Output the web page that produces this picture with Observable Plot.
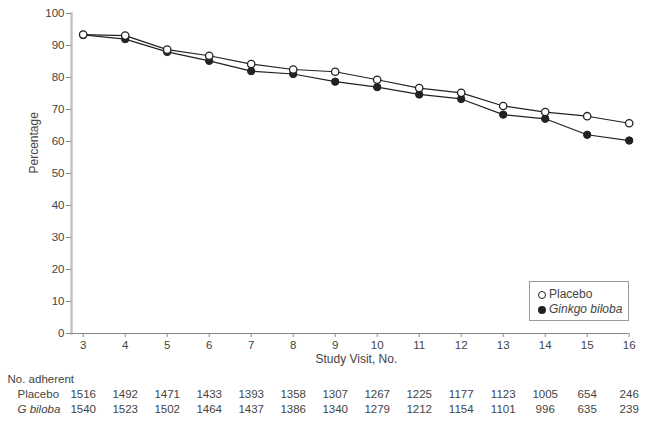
<!DOCTYPE html>
<html>
<head>
<meta charset="utf-8">
<script src="https://cdn.jsdelivr.net/npm/d3@7"></script>
<script src="https://cdn.jsdelivr.net/npm/@observablehq/plot@0.6"></script>
<style>
  body { margin: 0; background: #fff; }
  #wrap { position: relative; width: 647px; height: 424px; font-family: "Liberation Sans", Arial, sans-serif; }
  #legend { position: absolute; left: 529px; top: 281px; width: 100px; height: 40px; box-sizing: border-box;
    border: 1px solid #9a9a9a; background: #fff; font-size: 12px; color: #444; }
  .item { position: absolute; left: 8px; height: 14px; line-height: 14px; white-space: nowrap; }
  .sw { display: inline-block; box-sizing: border-box; width: 8px; height: 8px; border-radius: 50%; vertical-align: -1px; margin-right: 3px; }
</style>
</head>
<body>
<div id="wrap"></div>
<script>
const visits = [3, 4, 5, 6, 7, 8, 9, 10, 11, 12, 13, 14, 15, 16];
const placebo = [93.4, 93.1, 88.7, 86.8, 84.2, 82.5, 81.8, 79.3, 76.7, 75.2, 71.1, 69.2, 67.9, 65.7];
const ginkgo = [93.3, 92.0, 88.0, 85.2, 82.0, 81.1, 78.7, 77.0, 74.7, 73.3, 68.4, 67.1, 62.1, 60.3];
const placeboN = [1516, 1492, 1471, 1433, 1393, 1358, 1307, 1267, 1225, 1177, 1123, 1005, 654, 246];
const ginkgoN = [1540, 1523, 1502, 1464, 1437, 1386, 1340, 1279, 1212, 1154, 1101, 996, 635, 239];
const yTicks = [0, 10, 20, 30, 40, 50, 60, 70, 80, 90, 100];

const pData = visits.map((v, i) => ({visit: v, value: placebo[i]}));
const gData = visits.map((v, i) => ({visit: v, value: ginkgo[i]}));

const textColor = "#444";
const ink = "#222";

const chart = Plot.plot({
  width: 647,
  height: 424,
  marginLeft: 71,
  marginRight: 18.3,
  marginTop: 13,
  marginBottom: 91,
  style: {fontFamily: "'Liberation Sans', Arial, sans-serif", fontSize: "11.5px", color: textColor, background: "#fff"},
  x: {domain: [3, 16], insetLeft: 11.7},
  y: {domain: [0, 100]},
  marks: [
    Plot.frame({anchor: "left", stroke: "#c4c4c4", strokeWidth: 2.5}),
    Plot.ruleY([0], {stroke: "#8a8a8a", strokeWidth: 1}),
    Plot.axisY({ticks: yTicks, tickSize: 5, tickPadding: 2, stroke: "#8a8a8a", label: null, fill: textColor}),
    Plot.axisX({ticks: visits, tickSize: 4, tickPadding: 3, tickFormat: d => String(d), stroke: "#8a8a8a", label: null, fill: textColor}),
    Plot.text(["Percentage"], {frameAnchor: "left", dx: -37.5, rotate: -90, fontSize: 12, fill: textColor}),
    Plot.text(["Study Visit, No."], {frameAnchor: "bottom", dx: 6, dy: 29, fontSize: 12, fill: textColor}),
    Plot.line(gData, {x: "visit", y: "value", stroke: ink, strokeWidth: 1.2}),
    Plot.line(pData, {x: "visit", y: "value", stroke: ink, strokeWidth: 1.2}),
    Plot.dot(gData, {x: "visit", y: "value", r: 3.7, fill: ink, stroke: ink, strokeWidth: 1}),
    Plot.dot(pData, {x: "visit", y: "value", r: 3.7, fill: "#fff", stroke: ink, strokeWidth: 1.3}),
    Plot.text(["No. adherent"], {frameAnchor: "bottom-left", dx: -64, dy: 49, textAnchor: "start", fontSize: 11.5, fill: textColor}),
    Plot.text(["Placebo"], {frameAnchor: "bottom-left", dx: -54, dy: 64, textAnchor: "start", fontSize: 11.5, fill: textColor}),
    Plot.text(["G biloba"], {frameAnchor: "bottom-left", dx: -54, dy: 79, textAnchor: "start", fontSize: 11.5, fontStyle: "italic", fill: textColor}),
    Plot.text(visits, {x: d => d, text: (d, i) => String(placeboN[i]), frameAnchor: "bottom", dy: 64, fontSize: 11.5, fill: textColor}),
    Plot.text(visits, {x: d => d, text: (d, i) => String(ginkgoN[i]), frameAnchor: "bottom", dy: 79, fontSize: 11.5, fill: textColor})
  ]
});

const wrap = document.getElementById("wrap");
wrap.appendChild(chart);

const legend = document.createElement("div");
legend.id = "legend";
legend.innerHTML =
  '<div class="item" style="top:5px"><span class="sw" style="background:#fff;border:1.3px solid #222"></span>Placebo</div>' +
  '<div class="item" style="top:20px"><span class="sw" style="background:#222"></span><i>Ginkgo biloba</i></div>';
wrap.appendChild(legend);
</script>
</body>
</html>
